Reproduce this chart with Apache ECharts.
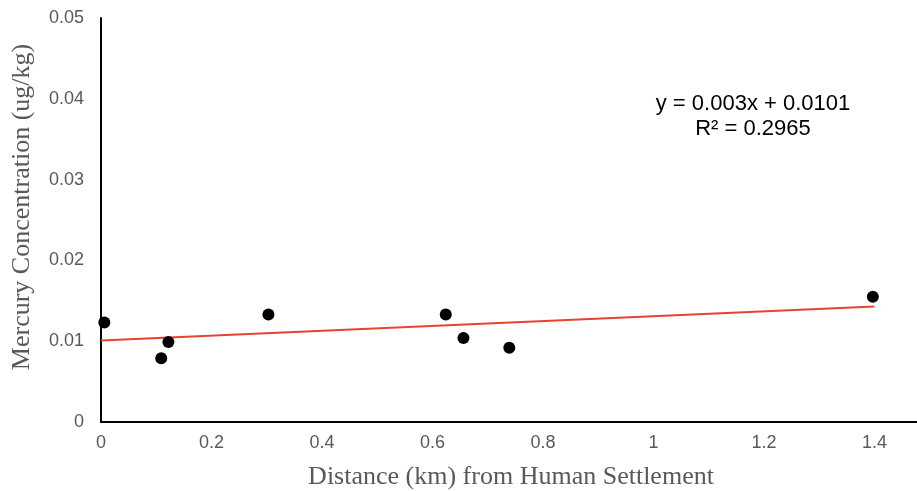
<!DOCTYPE html>
<html>
<head>
<meta charset="utf-8">
<script src="https://cdn.jsdelivr.net/npm/echarts@6/dist/echarts.min.js"></script>
<style>
  html, body { margin: 0; padding: 0; background: #fff; }
  #pic { width: 917px; height: 491px; }
</style>
</head>
<body>
<div id="pic"></div>
<script>
// distance (km) and mercury (ug/kg)
var distance = [0.006, 0.109, 0.122, 0.303, 0.624, 0.656, 0.739, 1.397];
var mercury = [0.0123, 0.0079, 0.0099, 0.0133, 0.0133, 0.0104, 0.0092, 0.0155];
// linear trend endpoints
var trendX = [0, 1.4];
var trendY = [0.0101, 0.0143];
var equation = ['y = 0.003x + 0.0101', 'R² = 0.2965'];

var points = [];
for (var i = 0; i < distance.length; i++) {
  points.push([distance[i], mercury[i]]);
}
var trend = [];
for (var j = 0; j < trendX.length; j++) {
  trend.push([trendX[j], trendY[j]]);
}

var chart = echarts.init(document.getElementById('pic'));
var option = {
  backgroundColor: '#fff',
  animation: false,
  grid: {
    left: 101,
    top: 18,
    width: 884,
    height: 404,
    containLabel: false,
    outerBoundsMode: 'none'
  },
  xAxis: {
    type: 'value',
    min: 0,
    max: 1.6,
    interval: 0.2,
    name: 'Distance (km) from Human Settlement',
    nameLocation: 'middle',
    nameGap: 42,
    nameTextStyle: {
      fontFamily: 'Liberation Serif',
      fontSize: 26,
      color: '#595959',
      padding: [0, 64, 0, 0]
    },
    axisLine: { lineStyle: { color: '#000', width: 2 } },
    axisTick: { show: false },
    splitLine: { show: false },
    axisLabel: {
      color: '#595959',
      fontFamily: 'Liberation Sans',
      fontSize: 18,
      margin: 12
    }
  },
  yAxis: {
    type: 'value',
    min: 0,
    max: 0.05,
    interval: 0.01,
    name: 'Mercury Concentration (ug/kg)',
    nameLocation: 'middle',
    nameGap: 66,
    nameTextStyle: {
      fontFamily: 'Liberation Serif',
      fontSize: 26,
      color: '#595959',
      padding: [0, 0, 0, 26]
    },
    axisLine: { show: true, lineStyle: { color: '#000', width: 2 } },
    axisTick: { show: false },
    splitLine: { show: false },
    axisLabel: {
      color: '#595959',
      fontFamily: 'Liberation Sans',
      fontSize: 18,
      margin: 17
    }
  },
  series: [
    {
      type: 'line',
      data: trend,
      symbol: 'none',
      lineStyle: { color: '#E8432E', width: 2 },
      z: 2
    },
    {
      type: 'scatter',
      data: points,
      symbolSize: 12,
      itemStyle: { color: '#000', opacity: 1 },
      z: 3
    }
  ],
  graphic: [
    {
      type: 'text',
      x: 753,
      y: 91,
      style: {
        text: equation.join('\n'),
        textAlign: 'center',
        textVerticalAlign: 'top',
        fontFamily: 'Liberation Sans',
        fontSize: 22,
        lineHeight: 25,
        fill: '#000'
      }
    }
  ]
};
chart.setOption(option);
</script>
</body>
</html>
